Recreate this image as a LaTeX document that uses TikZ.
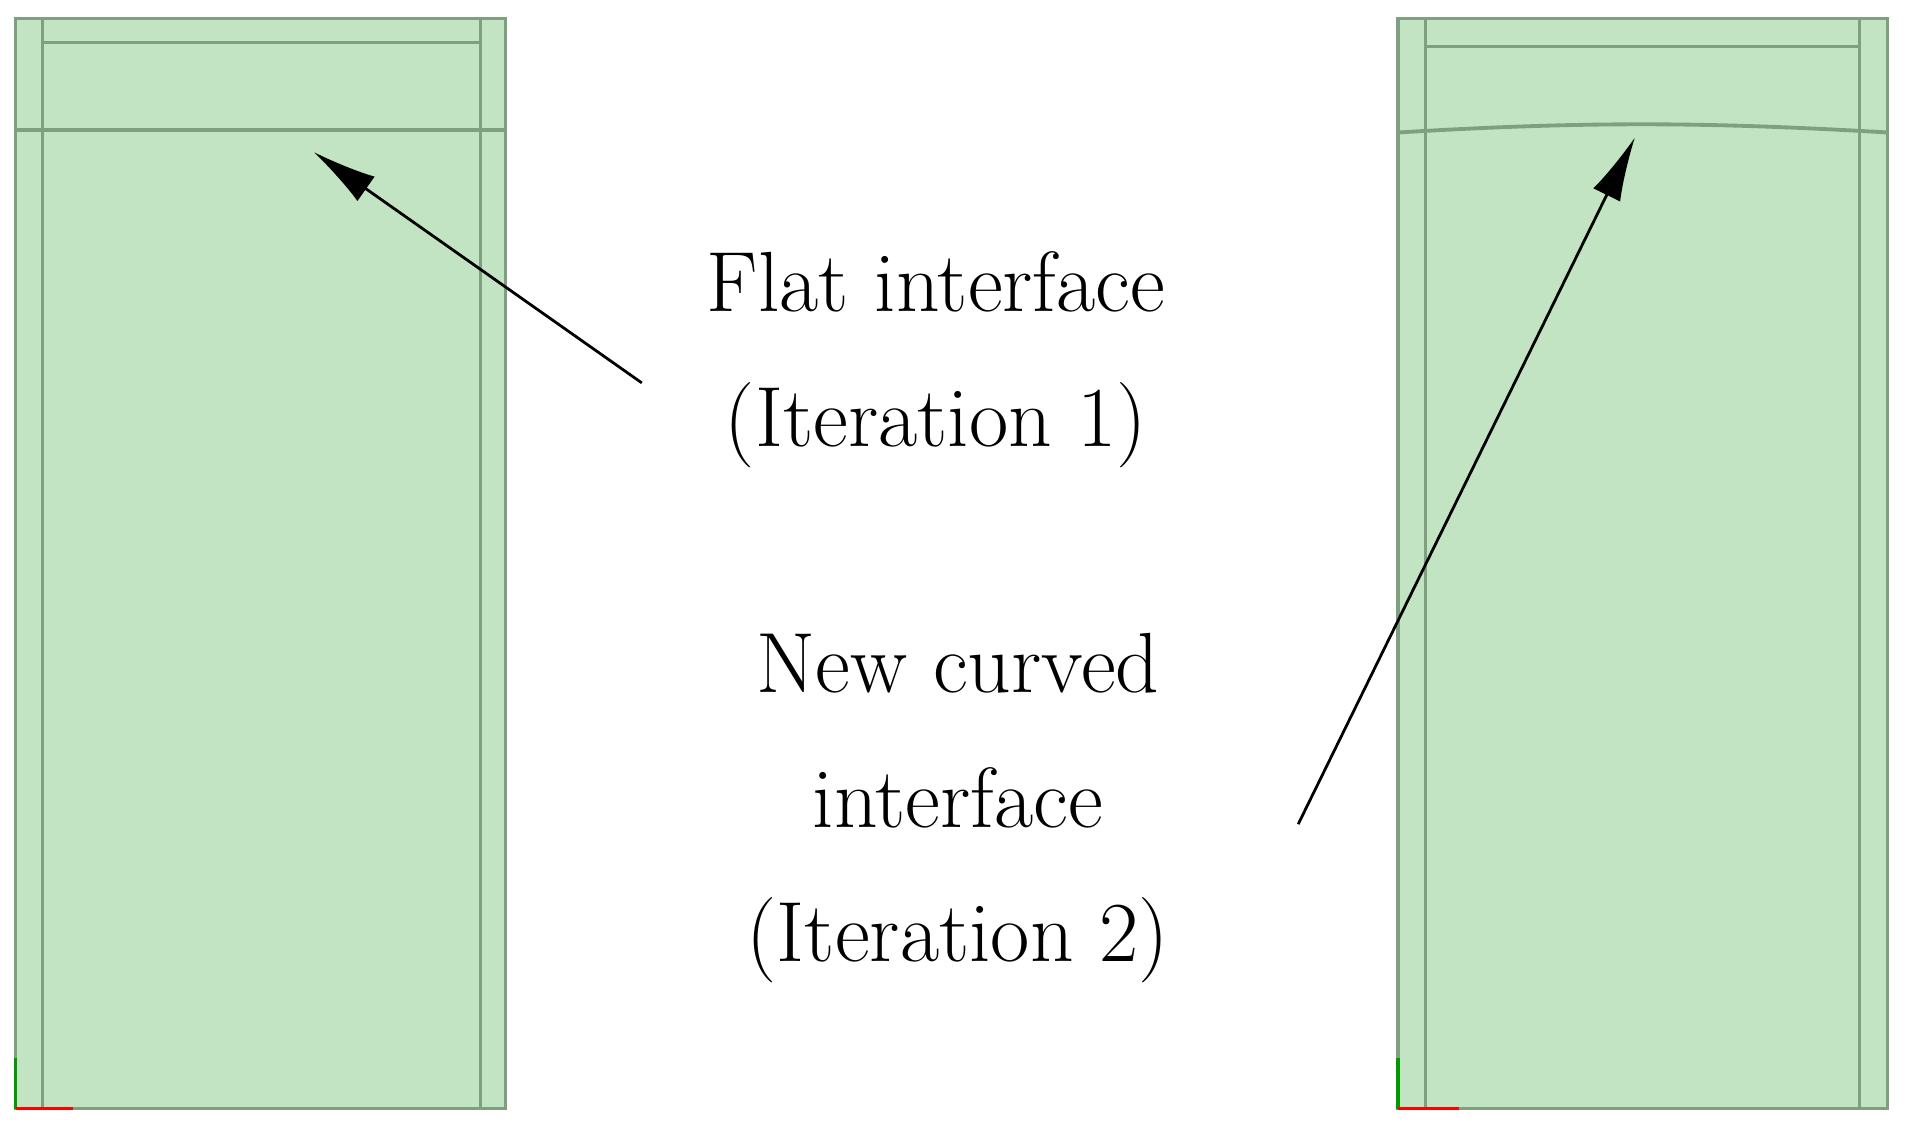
\documentclass[tikz,border=0pt]{standalone}
\usetikzlibrary{arrows.meta}
\definecolor{gelfill}{HTML}{C2E4C2}
\definecolor{gelline}{HTML}{809F80}
\begin{document}
\begin{tikzpicture}[x=0.02cm,y=-0.02cm,
    block/.style={fill=gelfill,draw=gelline,line width=1.5pt},
    edge/.style={draw=gelline,line width=1.5pt},
    pointer/.style={-{Latex[length=30pt,width=14pt]},line width=1.3pt},
    label/.style={font=\fontsize{40}{63}\selectfont,align=center}
    ]
    \useasboundingbox (0,0) rectangle (1568,934.5);

    % left block, flat interface
    \draw[block] (13,15) rectangle (416,912);
    \draw[edge] (35,15) -- (35,912) (395,15) -- (395,912) (35,35) -- (395,35);
    \draw[edge] (13,107) -- (416,107);
    \draw[green!60!black,line width=1.5pt] (13,912) -- (13,870);
    \draw[red,line width=1.5pt] (13,912) -- (60,912);

    % right block, curved interface
    \draw[block] (1150,15) rectangle (1553,912);
    \draw[edge] (1173,15) -- (1173,912) (1530,15) -- (1530,912) (1173,38) -- (1530,38);
    \draw[edge,line width=1.8pt] (1150,109) .. controls (1300,100) and (1400,100) .. (1553,109);
    \draw[green!60!black,line width=1.5pt] (1150,912) -- (1150,870);
    \draw[red,line width=1.5pt] (1150,912) -- (1200,912);

    \node (flat) [label] at (770,296) {Flat interface\\(Iteration 1)};
    \node (curved) [label] at (788,665) {New curved\\interface\\(Iteration 2)};

    \coordinate (flattail) at (528,315);
    \coordinate (flattip) at (258,125);
    \coordinate (curvedtail) at (1068,678);
    \coordinate (curvedtip) at (1345,113);
    \draw[pointer] (flattail) -- (flattip);
    \draw[pointer] (curvedtail) -- (curvedtip);
\end{tikzpicture}
\end{document}
